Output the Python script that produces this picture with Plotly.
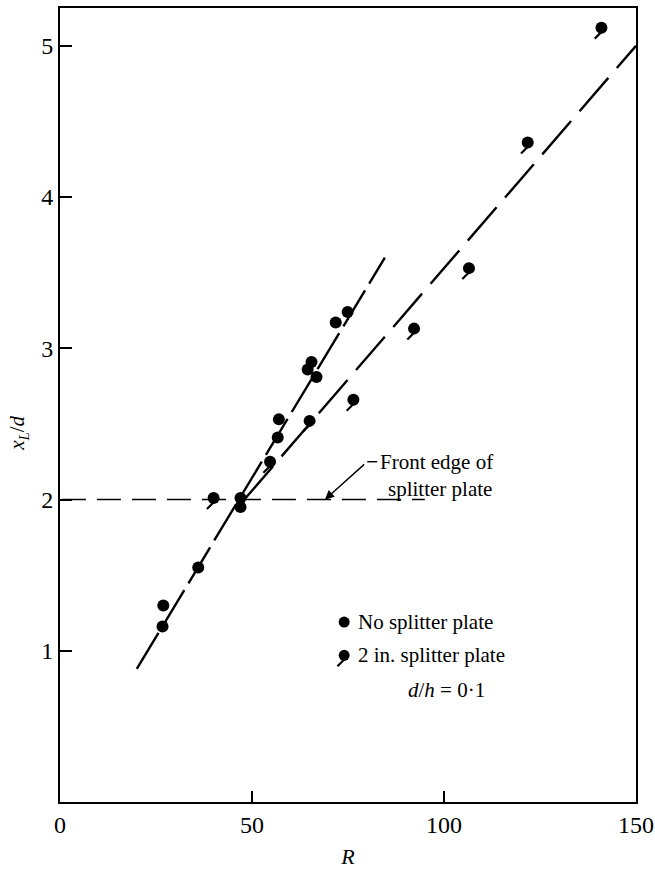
import plotly.graph_objects as go

# --- data ---
nosplit_R = [26.7, 26.9, 36.0, 47.0, 47.0, 56.7, 57.0, 64.5, 65.5, 66.8, 71.8, 74.9]
nosplit_y = [1.16, 1.30, 1.55, 2.01, 1.95, 2.41, 2.53, 2.86, 2.91, 2.81, 3.17, 3.24]

split_R = [40.0, 54.7, 65.0, 76.4, 92.2, 106.5, 121.8, 141.0]
split_y = [2.01, 2.25, 2.52, 2.66, 3.13, 3.53, 4.36, 5.12]

fit_nosplit_R = [20.0, 84.6]
fit_nosplit_y = [0.88, 3.60]
fit_split_R = [48.0, 150.0]
fit_split_y = [2.00, 5.00]
front_R = [0.5, 95.0]
front_y = [2.0, 2.0]

x_ticks = [0, 50, 100, 150]
y_ticks = [1, 2, 3, 4, 5]

FONT = "Liberation Serif"
INK = "black"

# tail offset of the "splitter" marker (data units, derived from each point)
TDX, TDY = -0.7, -0.046

fig = go.Figure()

# fitted / reference lines
fig.add_trace(go.Scatter(x=front_R, y=front_y, mode="lines",
                         line=dict(color=INK, width=1.6, dash="24px,11px"),
                         hoverinfo="skip", showlegend=False))
fig.add_trace(go.Scatter(x=fit_nosplit_R, y=fit_nosplit_y, mode="lines",
                         line=dict(color=INK, width=2.4, dash="42px,8px"),
                         hoverinfo="skip", showlegend=False))
fig.add_trace(go.Scatter(x=fit_split_R, y=fit_split_y, mode="lines",
                         line=dict(color=INK, width=2.4, dash="44px,13px"),
                         hoverinfo="skip", showlegend=False))

# data points
fig.add_trace(go.Scatter(x=nosplit_R, y=nosplit_y, mode="markers",
                         marker=dict(symbol="circle", size=12, color=INK),
                         showlegend=False))
fig.add_trace(go.Scatter(x=[r + TDX for r in split_R], y=[v + TDY for v in split_y],
                         mode="markers",
                         marker=dict(symbol="line-ne", size=8, color=INK,
                                     line=dict(color=INK, width=2.2)),
                         hoverinfo="skip", showlegend=False))
fig.add_trace(go.Scatter(x=split_R, y=split_y, mode="markers",
                         marker=dict(symbol="circle", size=12, color=INK),
                         showlegend=False))

# hand-drawn key
key_R = [74.0, 74.0]
key_y = [1.19, 0.97]
fig.add_trace(go.Scatter(x=[key_R[1] + TDX], y=[key_y[1] + TDY], mode="markers",
                         marker=dict(symbol="line-ne", size=8, color=INK,
                                     line=dict(color=INK, width=2.2)),
                         hoverinfo="skip", showlegend=False))
fig.add_trace(go.Scatter(x=key_R, y=key_y, mode="markers",
                         marker=dict(symbol="circle", size=11, color=INK),
                         hoverinfo="skip", showlegend=False))

annots = [
    dict(x=77.2, y=1.19, text="No splitter plate", xanchor="left", yanchor="middle"),
    dict(x=77.2, y=0.97, text="2 in. splitter plate", xanchor="left", yanchor="middle"),
    dict(x=90.0, y=0.74, text="<i>d</i>/<i>h</i> = 0·1", xanchor="left", yanchor="middle"),
    dict(x=82.8, y=2.25, text="Front edge of", xanchor="left", yanchor="middle"),
    dict(x=84.8, y=2.07, text="splitter plate", xanchor="left", yanchor="middle"),
]
for a in annots:
    fig.add_annotation(showarrow=False, font=dict(family=FONT, size=21, color=INK), **a)

# leader arrow to the front edge line
fig.add_annotation(x=69.0, y=2.0, ax=80.0, ay=2.25, xref="x", yref="y", axref="x", ayref="y",
                   text=" ", showarrow=True, arrowhead=2, arrowsize=1.3, arrowwidth=1.4,
                   arrowcolor=INK, standoff=0, font=dict(size=10))
fig.add_shape(type="line", x0=80.0, y0=2.25, x1=82.6, y1=2.25,
              line=dict(color=INK, width=1.4))

# y-axis title as a rotated annotation
fig.add_annotation(xref="paper", yref="paper", x=-0.073, y=0.465, showarrow=False,
                   text="<i>x<sub>L</sub></i>/<i>d</i>", textangle=-90,
                   xanchor="center", yanchor="middle",
                   font=dict(family=FONT, size=21, color=INK))

fig.update_layout(
    width=655, height=871,
    margin=dict(l=60, r=19, t=8, b=69),
    paper_bgcolor="white", plot_bgcolor="white",
    font=dict(family=FONT, size=24, color=INK),
    showlegend=False,
)
fig.update_xaxes(range=[0, 150], tickvals=x_ticks, ticktext=[str(v) for v in x_ticks],
                 tickfont=dict(family=FONT, size=24, color=INK),
                 ticks="inside", ticklen=11, tickwidth=1.5, tickcolor=INK,
                 showline=True, linecolor=INK, linewidth=2, mirror=True,
                 showgrid=False, zeroline=False, automargin=False,
                 title=dict(text="<i>R</i>", font=dict(family=FONT, size=22), standoff=12))
fig.update_yaxes(range=[0, 5.25], tickvals=y_ticks, ticktext=[str(v) for v in y_ticks],
                 tickfont=dict(family=FONT, size=24, color=INK),
                 ticks="inside", ticklen=12, tickwidth=1.5, tickcolor=INK,
                 showline=True, linecolor=INK, linewidth=2, mirror=True,
                 showgrid=False, zeroline=False, automargin=False)

# remove the browser's default 8px page margin so the 655x871 figure fills the window
fig.write_html("out.html",
               config={"displayModeBar": False},
               post_script="document.body.style.margin='0';document.body.style.overflow='hidden';")
